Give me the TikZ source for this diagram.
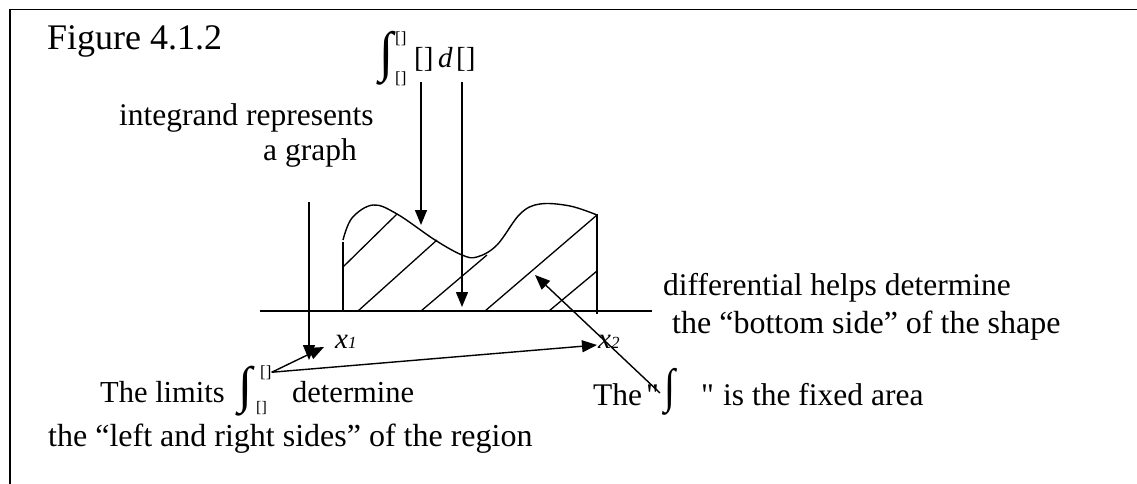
\documentclass[tikz,border=0pt]{standalone}
\usepackage{fontspec}
\setmainfont{Liberation Serif}
\newcommand{\sq}{{\addfontfeature{Ligatures=TeXOff}"}}
\usetikzlibrary{arrows.meta}
\begin{document}
\begin{tikzpicture}[x=1pt,y=-1pt,
  txt/.style={font=\fontsize{31.5}{31.5}\selectfont, inner sep=0, anchor=base west},
  wide/.style={txt, font=\fontsize{32}{32}\selectfont},
  small/.style={txt, font=\fontsize{17}{17}\selectfont},
  mid/.style={txt, font=\fontsize{29}{29}\selectfont},
  ln/.style={line width=1.4pt},
  arr/.style={line width=1.4pt, -{Triangle[length=15pt,width=12pt]}},
  hatch/.style={line width=1.3pt}]
\useasboundingbox (0,0) rectangle (1137,484);
% frame
\draw[line width=1.6pt] (10,484) -- (10,9.5) -- (1137,9.5);

% title
\node[txt, font=\fontsize{36}{36}\selectfont] (fig) at (47,50) {Figure 4.1.2};

% top formula
\node[inner sep=0] (tint) at (386,58) {\resizebox*{14pt}{54pt}{∫}};
\node[small] (tup) at (395,44) {[]};
\node[small] (tlo) at (395,84) {[]};
\node[mid] (integrand) at (414,68) {[]};
\node[mid] (dd) at (438,68) {\itshape d};
\node[mid] (dvar) at (456,68) {[]};

% left texts
\node[txt] (integ) at (119,125) {integrand represents};
\node[txt] (agraph) at (263,160) {a graph};

% axes
\coordinate (axL) at (260,311);
\coordinate (axR) at (652,311);
\draw[ln] (axL) -- (axR);
\coordinate (yTop) at (309,202);
\coordinate (yBot) at (309,360);
\draw[arr] (yTop) -- (yBot);

% region
\draw[ln] (343,311) -- (343,242);
\draw[ln] (597,314) -- (597,214);
\draw[ln] plot[smooth, tension=0.6] coordinates {(343,240) (352,218) (373,205) (397,214) (435,240) (462,255) (477,257) (497,245) (520,214) (540,204) (570,206) (597,215)};
% hatching
\draw[hatch] (343,267) -- (397,214);
\draw[hatch] (358,311) -- (437,240);
\draw[hatch] (421,311) -- (487,255);
\draw[hatch] (485,311) -- (597,215);
\draw[hatch] (549,311) -- (597,271);

% x labels
\node[txt, font=\fontsize{29}{29}\selectfont] (xone) at (335,348) {\itshape x\fontsize{17}{17}\selectfont 1};
\node[txt, font=\fontsize{29}{29}\selectfont] (xtwo) at (598,348) {\itshape x\fontsize{17}{17}\selectfont 2};

% arrows from top formula
\coordinate (c1) at (421,225);
\coordinate (c2) at (462,307);
\coordinate (a1) at ([yshift=-10pt]integrand.south);
\coordinate (a2) at ([yshift=-10pt]dvar.south);
\draw[arr] (c1 |- a1) -- (c1);
\draw[arr] (c2 |- a2) -- (c2);

% right texts
\node[txt] (diff) at (663,295) {differential helps determine};
\node[wide] (bot) at (672,333) {the “bottom side” of the shape};

% bottom left
\node[txt, font=\fontsize{30.5}{30.5}\selectfont] (limits) at (100,402) {The limits};
\node[inner sep=0] (bint) at (245,391) {\resizebox*{14pt}{50pt}{∫}};
\node[small] (bup) at (260,377) {[]};
\node[small, font=\fontsize{16}{16}\selectfont] (blo) at (256,412) {[]};
\node[txt, font=\fontsize{30.5}{30.5}\selectfont] (determ) at (292,402) {determine};
\node[wide] (lr) at (48,446) {the “left and right sides” of the region};

\coordinate (x1t) at (324,347);
\coordinate (x2t) at (597,345);
\draw[arr] (bup.east) -- (x1t);
\draw[arr] (bup.east) -- (x2t);

% fixed area
\node[txt] (the) at (593,405) {The};
\node[txt] (q1) at (646,405) {\sq};
\node[inner sep=0] (mint) at (670,392) {\resizebox*{11pt}{47pt}{∫}};
\node[txt] (q2) at (701,405) {\sq};
\node[txt] (fixed) at (723,405) {is the fixed area};
\coordinate (f0) at (660,393);
\coordinate (f1) at (535,275);
\draw[arr] (f0) -- (f1);
\end{tikzpicture}
\end{document}
